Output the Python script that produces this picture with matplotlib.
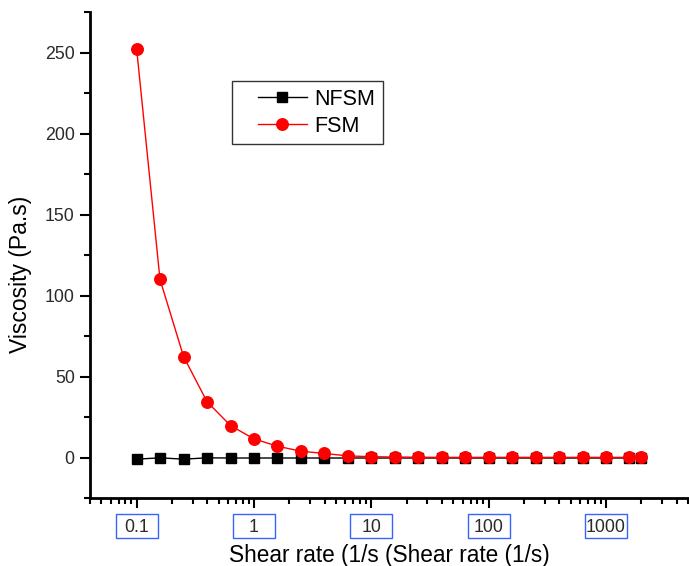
import matplotlib.pyplot as plt
import matplotlib.patches as mpatches
from matplotlib.legend_handler import HandlerLine2D
from matplotlib.ticker import LogLocator, MultipleLocator, NullFormatter
import numpy as np

plt.rcParams["font.family"] = ["Liberation Sans", "DejaVu Sans"]

shear_rate = [0.1, 0.158, 0.251, 0.398, 0.631, 1.0, 1.58, 2.51, 3.98, 6.31,
              10.0, 15.8, 25.1, 39.8, 63.1, 100.0, 158, 251, 398, 631,
              1000, 1585, 2000]
fsm = [252, 110, 62.3, 34.4, 19.7, 11.5, 7.0, 3.9, 2.5, 1.0,
       0.5, 0.3, 0.2, 0.1, 0.1, 0.1, 0.1, 0.1, 0.1, 0.1,
       0.1, 0.1, 0.1]
nfsm = [-1.0, -0.2, -1.0, -0.2, -0.3, -0.3, -0.3, -0.3, -0.3, -0.3,
        -0.3, -0.3, -0.3, -0.3, -0.3, -0.3, -0.3, -0.3, -0.3, -0.3,
        -0.3, -0.3, -0.3]
xtick_vals = [0.1, 1, 10, 100, 1000]
xtick_labels = ["0.1", "1", "10", "100", "1000"]


class ShiftedLine(HandlerLine2D):
    # leave some blank space left of the legend line
    shift = 13

    def create_artists(self, legend, orig_handle, xdescent, ydescent,
                       width, height, fontsize, trans):
        return super().create_artists(legend, orig_handle, xdescent - self.shift,
                                      ydescent, width - self.shift, height,
                                      fontsize, trans)


fig = plt.figure(figsize=(6.89, 5.66), dpi=100)
ax = fig.add_axes([0.1306, 0.1201, 0.868, 0.8587])

l1, = ax.plot(shear_rate, nfsm, "-s", color="black", lw=1, ms=7.5, label="NFSM")
l2, = ax.plot(shear_rate, fsm, "-o", color="red", lw=1, ms=8.3, label="FSM")

ax.set_xscale("log")
ax.set_xlim(0.04, 5000)
ax.set_ylim(-25, 275)

ax.set_xticks(xtick_vals)
ax.set_xticklabels(xtick_labels)
ax.xaxis.set_minor_locator(LogLocator(base=10, subs=np.arange(2, 10), numticks=20))
ax.xaxis.set_minor_formatter(NullFormatter())
ax.yaxis.set_major_locator(MultipleLocator(50))
ax.yaxis.set_minor_locator(MultipleLocator(25))

for s in ["top", "right"]:
    ax.spines[s].set_visible(False)
for s in ["left", "bottom"]:
    ax.spines[s].set_linewidth(2)

ax.tick_params(which="major", direction="out", length=7, width=1.5,
               labelsize=12.8, colors="black", labelcolor="#2a2a2a")
ax.tick_params(which="minor", direction="out", length=4, width=1.5)
ax.tick_params(axis="x", pad=8)
ax.tick_params(axis="y", pad=4)

ax.set_xlabel("Shear rate (1/s (Shear rate (1/s)", fontsize=16.3, labelpad=6)
ax.set_ylabel("Viscosity (Pa.s)", fontsize=16.5)
ax.yaxis.set_label_coords(-0.097, 0.46)

# blue boxes around x tick labels
fig.canvas.draw()
W, H = fig.get_size_inches() * fig.dpi
bw, bh = 42, 24
for t in xtick_vals:
    px = ax.transData.transform((t, 0))[0]
    rect = mpatches.Rectangle(((px - bw / 2) / W, (H - 538) / H), bw / W, bh / H,
                              transform=fig.transFigure, fill=False,
                              ec="#3366ff", lw=1)
    fig.patches.append(rect)

leg = ax.legend(loc="upper left", bbox_to_anchor=(0.237, 0.858), fontsize=15.5,
                frameon=True, fancybox=False, edgecolor="black",
                handlelength=3.15, borderpad=0.36, labelspacing=0.27,
                handletextpad=0.33, borderaxespad=0,
                handler_map={l1: ShiftedLine(), l2: ShiftedLine()})
leg.get_frame().set_linewidth(1)

fig.savefig("out.png", dpi=100)
